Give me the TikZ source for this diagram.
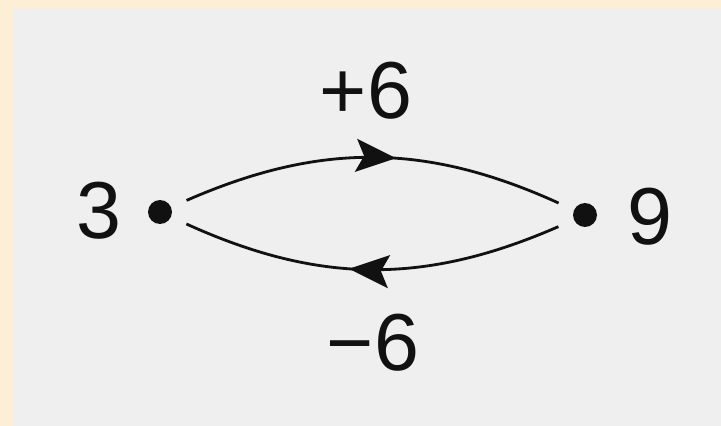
\documentclass[tikz,border=0pt]{standalone}
\usepackage{fontspec}
\setmainfont{Liberation Sans}
\usetikzlibrary{arrows.meta, decorations.markings}
\definecolor{scanbg}{HTML}{EFEFEF}
\definecolor{scanedge}{HTML}{FCEFD5}
\definecolor{inkdark}{HTML}{111111}
\tikzset{
  dotnode/.style={circle, fill=inkdark, inner sep=0pt, minimum size=0.48cm, outer sep=0.34cm},
  numlab/.style={inner sep=0pt, font=\fontsize{46}{50}\selectfont, text=inkdark},
  arc/.style={line width=1.6pt, draw=inkdark, bend left=24,
    postaction={decorate, decoration={markings,
      mark=at position 0.56 with {\arrow{Stealth[length=0.8cm, width=0.66cm, inset=0.16cm]}}}}},
}

\begin{document}
\begin{tikzpicture}[x=0.02cm, y=-0.02cm]
  % scanned page background
  \fill[scanedge] (0,0) rectangle (721,426);
  \fill[scanbg] (14,9) rectangle (721,426);
  \useasboundingbox (0,0) rectangle (721,426);

  \node[dotnode] (d3) at (160,212) {};
  \node[dotnode] (d9) at (585,215) {};
  \node[numlab] (n3) at (99,211) {3};
  \node[numlab] (n9) at (650,217) {9};
  \node[numlab] (plus) at (366,91) {+6};
  \node[numlab] (minus) at (373,343) {−6};

  \draw[arc] (d3) to (d9);
  \draw[arc] (d9) to (d3);
\end{tikzpicture}
\end{document}
